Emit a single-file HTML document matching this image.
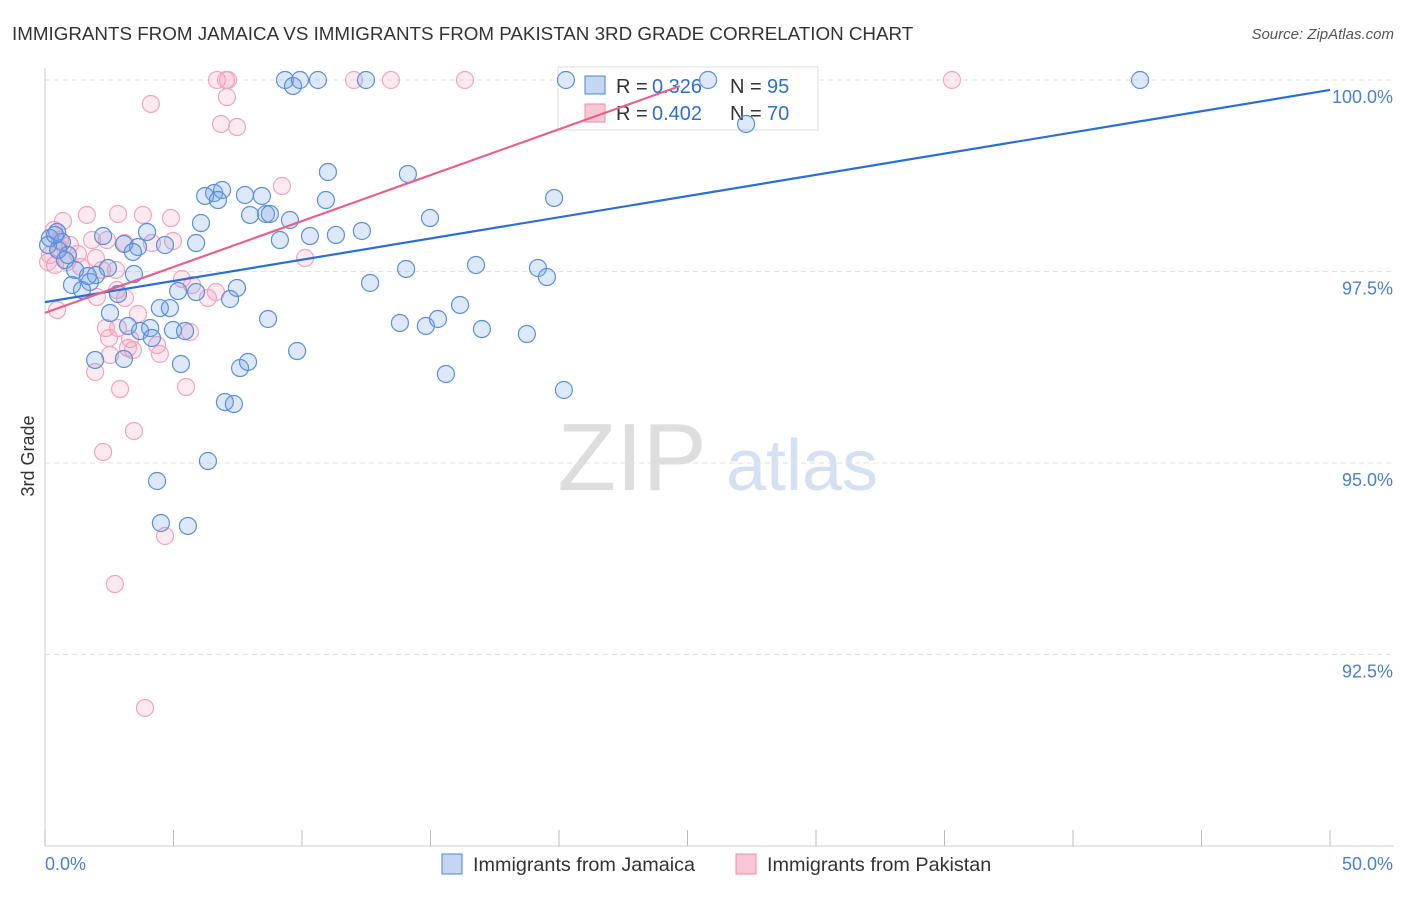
<!DOCTYPE html>
<html><head><meta charset="utf-8"><style>
body{margin:0;background:#fff;font-family:"Liberation Sans",sans-serif}
svg text{font-family:"Liberation Sans",sans-serif}
</style></head><body>
<svg id="c" width="1406" height="892">
<text x="12" y="40" font-size="18.8" fill="#333">IMMIGRANTS FROM JAMAICA VS IMMIGRANTS FROM PAKISTAN 3RD GRADE CORRELATION CHART</text>
<text x="1394" y="39" font-size="15" fill="#555" font-style="italic" text-anchor="end">Source: ZipAtlas.com</text>
<text x="34" y="456" font-size="18" fill="#333" text-anchor="middle" transform="rotate(-90 34 456)">3rd Grade</text>
<text x="632" y="490" font-size="96" fill="#ddd" font-family="Liberation Serif" text-anchor="middle">ZIP</text>
<text x="802" y="490" font-size="72" fill="#d3e1f3" text-anchor="middle">atlas</text>
<g id="grid"></g>
<g>
<rect x="558" y="67" width="260" height="63" fill="#fff" fill-opacity="0.85" stroke="#ddd"/>
<rect x="585" y="76" width="20" height="18" fill="#c3d7f3" stroke="#4a86d8"/>
<text x="616" y="93" font-size="20" fill="#333">R =</text><text x="652" y="93" font-size="20" fill="#2f6fd0">0.326</text>
<text x="730" y="93" font-size="20" fill="#333">N =</text><text x="767" y="93" font-size="20" fill="#2f6fd0">95</text>
<rect x="585" y="104" width="20" height="18" fill="#f9c6d4" stroke="#ee8aa8"/>
<text x="616" y="120" font-size="20" fill="#333">R =</text><text x="652" y="120" font-size="20" fill="#2f6fd0">0.402</text>
<text x="730" y="120" font-size="20" fill="#333">N =</text><text x="767" y="120" font-size="20" fill="#2f6fd0">70</text>
</g>
<g id="pts"></g><g id="lines"></g>
<g>
<rect x="442" y="854" width="20" height="20" fill="#c3d7f3" stroke="#4a86d8"/>
<text x="473" y="871" font-size="19.8" fill="#333">Immigrants from Jamaica</text>
<rect x="736" y="854" width="20" height="20" fill="#f9c6d4" stroke="#ee8aa8"/>
<text x="767" y="871" font-size="19.8" fill="#333">Immigrants from Pakistan</text>
</g>
</svg>
<script>
const yTicks=[100,97.5,95,92.5];
const yTickLabels=["100.0%","97.5%","95.0%","92.5%"];
const xTickLabels=["0.0%","50.0%"];
const bluePx=[[285,80],[293,86],[300,80],[318,80],[366,80],[566,80],[708,80],[1140,80],[746,124],[328,172],[408,174],[214,193],[222,190],[205,196],[218,200],[245,195],[262,196],[326,200],[554,198],[250,215],[266,214],[270,214],[290,220],[430,218],[201,223],[147,232],[103,236],[310,236],[336,235],[362,231],[280,240],[196,243],[165,245],[124,244],[138,247],[133,252],[57,232],[50,238],[62,242],[68,255],[58,250],[476,265],[538,268],[547,277],[406,269],[108,268],[134,274],[96,275],[72,285],[90,282],[82,290],[370,283],[237,288],[178,291],[196,292],[118,294],[230,299],[160,308],[170,308],[460,305],[110,313],[268,319],[400,323],[426,326],[438,319],[482,329],[527,334],[150,328],[128,326],[140,331],[152,338],[173,330],[185,331],[297,351],[95,360],[124,359],[181,364],[240,368],[248,362],[446,374],[564,390],[225,402],[234,404],[208,461],[157,481],[161,523],[188,526],[48,245],[55,235],[65,260],[75,270],[88,276]];
const pinkPx=[[217,80],[226,80],[228,80],[354,80],[391,80],[465,80],[952,80],[151,104],[227,97],[221,124],[237,127],[282,186],[63,221],[87,215],[118,214],[143,215],[171,218],[54,230],[92,240],[107,240],[125,243],[152,243],[173,241],[59,248],[78,254],[96,258],[67,262],[81,267],[102,270],[116,270],[55,265],[48,262],[305,258],[182,279],[192,285],[117,290],[97,297],[125,298],[208,298],[216,292],[57,310],[138,314],[106,328],[118,328],[190,332],[109,338],[130,339],[128,348],[157,345],[110,355],[133,350],[160,354],[95,372],[120,389],[186,387],[134,431],[103,452],[165,536],[115,584],[145,708],[60,240],[70,245],[50,255]];
const blueX=bluePx.map(p=>+((p[0]-45)/1285*50).toFixed(2));
const blueY=bluePx.map(p=>+(100-(p[1]-80)/191.5*2.5).toFixed(3));
const pinkX=pinkPx.map(p=>+((p[0]-45)/1285*50).toFixed(2));
const pinkY=pinkPx.map(p=>+(100-(p[1]-80)/191.5*2.5).toFixed(3));
const blueTrend=[97.10,99.87];
const pinkTrend=[96.96,99.92,24.7];
const NS="http://www.w3.org/2000/svg";
const X=v=>45+v/50*1285, Y=v=>80+(100-v)/2.5*191.5;
function mk(t,a,p){const e=document.createElementNS(NS,t);for(const k in a)e.setAttribute(k,a[k]);p.appendChild(e);return e;}
const grid=document.getElementById('grid');
yTicks.forEach((t,i)=>{
 const l=mk('line',{x1:45,x2:1394,y1:Y(t),y2:Y(t),stroke:'#e2e2e2','stroke-dasharray':'5,4'},grid);
 
 
 const tx=mk('text',{x:1393,y:Y(t)+23,'font-size':18,fill:'#4a80d0','text-anchor':'end'},grid);
 tx.textContent=yTickLabels[i];
 
 
});
const ax=mk('line',{x1:45,x2:45,y1:68,y2:846,stroke:'#ccc'},grid);


const bx=mk('line',{x1:45,x2:1394,y1:846,y2:846,stroke:'#ccc'},grid);


for(let v=0;v<=50;v+=5){
 const t=mk('line',{x1:X(v),x2:X(v),y1:830,y2:846,stroke:'#bbb'},grid);
 
 
}
[[0,'start'],[50,'end']].forEach((d,i)=>{
 const t=mk('text',{x:X(d[0])+(i?63:0),y:870,'font-size':18,fill:'#4a80d0','text-anchor':d[1]},grid);
 t.textContent=xTickLabels[i];
 
 
});
const pts=document.getElementById('pts');
pinkX.forEach((x,i)=>{
 const c=mk('circle',{cx:X(x),cy:Y(pinkY[i]),r:8.5,fill:'rgba(244,160,186,0.22)',stroke:'#f1a5bd','stroke-width':1.2},pts);
 
 
});
blueX.forEach((x,i)=>{
 const c=mk('circle',{cx:X(x),cy:Y(blueY[i]),r:8.5,fill:'rgba(120,165,230,0.25)',stroke:'#5a90db','stroke-width':1.2},pts);
 
 
});
const lines=document.getElementById('lines');
const bl=mk('line',{x1:X(0),y1:Y(blueTrend[0]),x2:X(50),y2:Y(blueTrend[1]),stroke:'#2a6fd6','stroke-width':2.2},lines);


const pl=mk('line',{x1:X(0),y1:Y(pinkTrend[0]),x2:X(pinkTrend[2]),y2:Y(pinkTrend[1]),stroke:'#e8608c','stroke-width':2.2},lines);


</script>
</body></html>
